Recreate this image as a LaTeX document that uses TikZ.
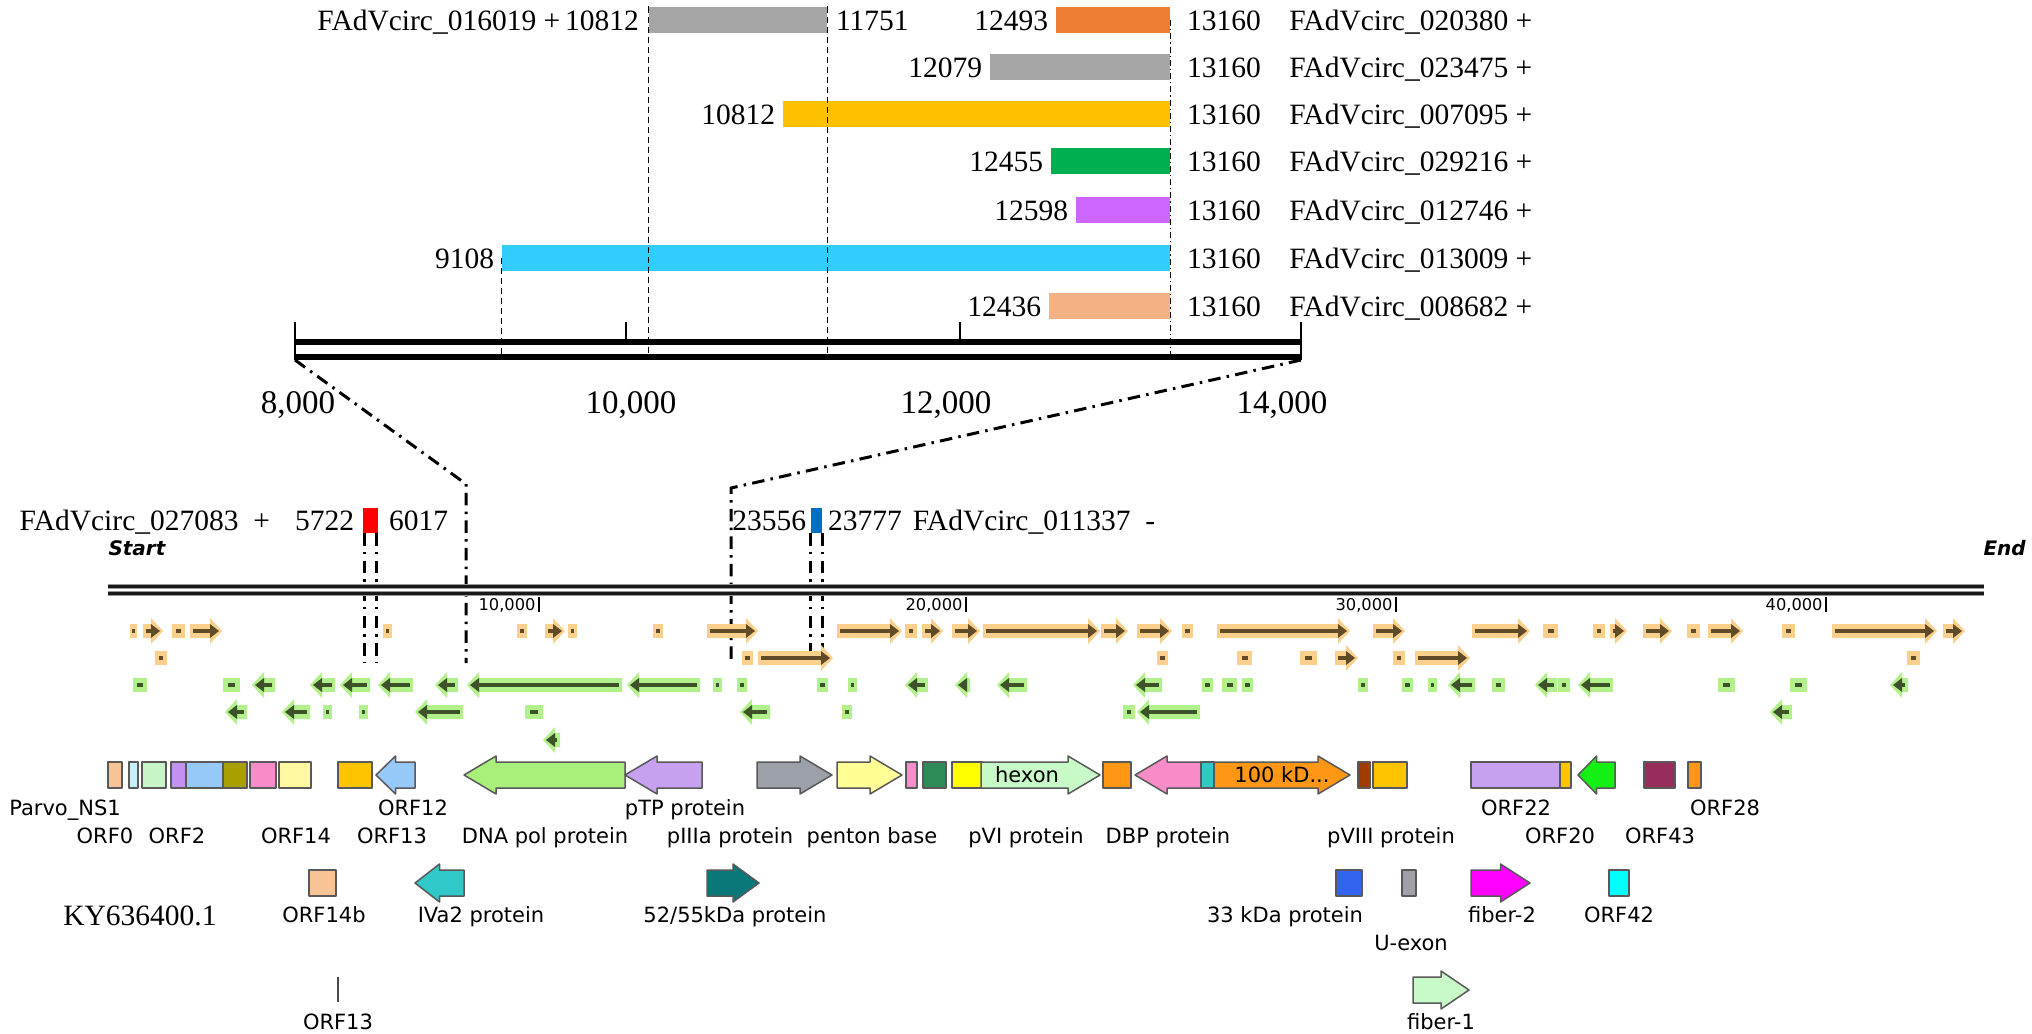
\documentclass[tikz,border=0pt]{standalone}
\usepackage{fontspec}
\setmainfont{Liberation Serif}
\setsansfont{DejaVu Sans}
\usetikzlibrary{positioning}

% circRNA colours
\definecolor{cgray}{RGB}{166,166,166}
\definecolor{corange}{RGB}{237,125,49}
\definecolor{cyellow}{RGB}{255,192,0}
\definecolor{cgreen}{RGB}{0,176,80}
\definecolor{cpurple}{RGB}{204,102,255}
\definecolor{cblue}{RGB}{51,204,255}
\definecolor{csalmon}{RGB}{244,177,131}
\definecolor{cred}{RGB}{255,0,0}
\definecolor{cmblue}{RGB}{0,112,192}
% feature track colours
\definecolor{fwdlight}{RGB}{250,208,140}
\definecolor{fwddark}{RGB}{95,75,40}
\definecolor{revlight}{RGB}{178,240,140}
\definecolor{revdark}{RGB}{62,82,42}
% ORF colours
\definecolor{orfpeach}{RGB}{248,196,150}
\definecolor{orflcyan}{RGB}{200,240,250}
\definecolor{orflgreen}{RGB}{200,245,200}
\definecolor{orfpurple}{RGB}{195,145,240}
\definecolor{orflblue}{RGB}{150,200,248}
\definecolor{orfolive}{RGB}{168,160,0}
\definecolor{orfpink}{RGB}{248,140,200}
\definecolor{orflyellow}{RGB}{255,248,160}
\definecolor{orfgold}{RGB}{255,196,0}
\definecolor{orflime}{RGB}{168,240,122}
\definecolor{orflav}{RGB}{200,160,240}
\definecolor{orfgrey}{RGB}{156,160,168}
\definecolor{orfpyellow}{RGB}{255,255,150}
\definecolor{orfdgreen}{RGB}{46,139,87}
\definecolor{orfyellow}{RGB}{255,255,0}
\definecolor{orfmint}{RGB}{200,250,200}
\definecolor{orforange}{RGB}{255,150,20}
\definecolor{orfteal}{RGB}{48,200,200}
\definecolor{orfbrown}{RGB}{160,60,0}
\definecolor{orfgreen}{RGB}{20,240,20}
\definecolor{orfmaroon}{RGB}{150,45,90}
\definecolor{orfblue}{RGB}{50,100,240}
\definecolor{orfdteal}{RGB}{10,120,120}
\definecolor{orfmagenta}{RGB}{255,0,255}
\definecolor{orfcyan}{RGB}{0,255,255}
\definecolor{orfsilver}{RGB}{160,160,168}

\tikzset{
  cbar/.style={rectangle, inner sep=0pt, minimum height=10.4pt},
  numlab/.style={inner sep=0pt, font=\fontsize{11.8}{14}\selectfont, text height=8pt, text depth=0pt},
  axlab/.style={inner sep=0pt, font=\fontsize{13.2}{15}\selectfont, text height=8.9pt, text depth=0pt},
  orflab/.style={inner sep=0pt, font=\sffamily\fontsize{8.4}{10}\selectfont, text height=6.1pt, text depth=0pt},
  ticklab/.style={inner sep=0pt, font=\sffamily\fontsize{6.5}{8}\selectfont, text height=4.7pt, text depth=0pt},
  endlab/.style={inner sep=0pt, font=\sffamily\bfseries\itshape\fontsize{8}{10}\selectfont, text height=5.8pt, text depth=0pt},
  vdash/.style={line width=0.6pt, dash pattern=on 2.4pt off 1.6pt},
  vdots/.style={line width=0.6pt, dash pattern=on 2.4pt off 1.2pt on 0.5pt off 1.2pt},
  zoomline/.style={line width=1.2pt, dash pattern=on 5pt off 2.5pt on 1pt off 2.5pt},
  orf/.style={draw=black!65, line width=0.6pt, line join=round}
}

% small features of the annotation track
\newcommand{\fwdfeat}[3]{%
  \fill[fwdlight] (#1,#3-7) -- (#2-12,#3-7) -- (#2-12,#3-13) -- (#2,#3)
    -- (#2-12,#3+13) -- (#2-12,#3+7) -- (#1,#3+7) -- cycle;
  \draw[fwddark, line width=1.8pt] (#1+3,#3) -- (#2-10,#3);
  \fill[fwddark] (#2-12,#3-7) -- (#2-3,#3) -- (#2-12,#3+7) -- cycle;
}
\newcommand{\revfeat}[3]{%
  \fill[revlight] (#2,#3-7) -- (#1+12,#3-7) -- (#1+12,#3-13) -- (#1,#3)
    -- (#1+12,#3+13) -- (#1+12,#3+7) -- (#2,#3+7) -- cycle;
  \draw[revdark, line width=1.8pt] (#2-3,#3) -- (#1+10,#3);
  \fill[revdark] (#1+12,#3-7) -- (#1+3,#3) -- (#1+12,#3+7) -- cycle;
}
\newcommand{\featbox}[4]{%
  \fill[#4light] (#1,#3-7) rectangle (#2,#3+7);
  \fill[#4dark] ({(#1+#2)/2-(#2-#1)*0.2},#3-2.2) rectangle ({(#1+#2)/2+(#2-#1)*0.2},#3+2.2);
}
% ORF shapes
\newcommand{\orfbox}[4]{\draw[orf, fill=#4] (#1,#3-13) rectangle (#2,#3+13);}
\newcommand{\orfright}[4]{%
  \pgfmathsetmacro\orfhead{min(32,0.5*(#2-#1))}%
  \draw[orf, fill=#4] (#1,#3-13) -- (#2-\orfhead,#3-13) -- (#2-\orfhead,#3-19) -- (#2,#3)
    -- (#2-\orfhead,#3+19) -- (#2-\orfhead,#3+13) -- (#1,#3+13) -- cycle;}
\newcommand{\orfleft}[4]{%
  \pgfmathsetmacro\orfhead{min(32,0.5*(#2-#1))}%
  \draw[orf, fill=#4] (#2,#3-13) -- (#1+\orfhead,#3-13) -- (#1+\orfhead,#3-19) -- (#1,#3)
    -- (#1+\orfhead,#3+19) -- (#1+\orfhead,#3+13) -- (#2,#3+13) -- cycle;}

\begin{document}
\begin{tikzpicture}[x=0.4pt,y=-0.4pt]
\useasboundingbox (0,0) rectangle (2032,1033);

% circRNA bars over the zoomed scale
\foreach \nm/\xa/\xb/\yy/\cc in {c016019/649/827/20/cgray, c020380/1056/1170/20/corange,
    c023475/990/1170/67/cgray, c007095/783/1170/114/cyellow, c029216/1051/1170/161/cgreen,
    c012746/1076/1170/210/cpurple, c013009/502/1170/258/cblue, c008682/1049/1170/306/csalmon}
  \node[cbar, fill=\cc, minimum width={(\xb-\xa)*0.4pt}] (\nm) at ({(\xa+\xb)/2},\yy) {};

\node[numlab, left=3.6pt of c016019] (c016019-a) {FAdVcirc\_016019 +\,10812};
\node[numlab, right=3.2pt of c016019] (c016019-b) {11751};
\foreach \id/\st in {020380/12493, 023475/12079, 007095/10812, 029216/12455,
    012746/12598, 013009/9108, 008682/12436}{
  \node[numlab, left=2.8pt of c\id] (c\id-a) {\st};
  \node[numlab, right=6.4pt of c\id] (c\id-b) {13160};
  \node[numlab, right=11pt of c\id-b] (c\id-n) {FAdVcirc\_\id\ +};
}

% scale 8,000 - 14,000
\coordinate (axbot) at (0,360);
\draw[line width=2.4pt] (295,342) -- (1301,342);
\draw[line width=2.4pt] (295,357) -- (1301,357);
\draw[line width=0.5pt] (295,322) -- (295,360);
\draw[line width=0.5pt] (1301,322) -- (1301,360);
\foreach \x in {626,960} \draw[line width=0.5pt] (\x,322) -- (\x,342);
\node[axlab] (ax8) at (298,402) {8,000};
\node[axlab] (ax10) at (631,402) {10,000};
\node[axlab] (ax12) at (946,402) {12,000};
\node[axlab] (ax14) at (1282,402) {14,000};

% guide lines from the bars
\draw[vdash] (c016019.north west) -- (c016019.north west |- axbot);
\draw[vdash] (c016019.north east) -- (c016019.north east |- axbot);
\draw[vdash] (c013009.west) -- (c013009.west |- axbot);
\draw[vdots] (c020380.east) -- (c020380.east |- axbot);

% zoom lines down to the genome
\coordinate (zl) at (466,484);
\coordinate (zr) at (731,488);
\coordinate (trk) at (0,663);
\draw[zoomline] (295,360) -- (zl) -- (zl |- trk);
\draw[zoomline] (1301,360) -- (zr) -- (zr |- trk);

% circRNAs outside the zoom
\node[cbar, fill=cred, minimum width=6pt, minimum height=10pt] (c027083) at (370.5,520) {};
\node[numlab, left=3.2pt of c027083] (c027083-a) {5722};
\node[numlab, right=4pt of c027083] (c027083-b) {6017};
\node[numlab, left=9.6pt of c027083-a] (c027083-n) {FAdVcirc\_027083\enspace+};
\node[cbar, fill=cmblue, minimum width=4.4pt, minimum height=10pt] (c011337) at (816.5,520) {};
\node[numlab, left=1.6pt of c011337] (c011337-a) {23556};
\node[numlab, right=2pt of c011337] (c011337-b) {23777};
\node[numlab, right=4pt of c011337-b] (c011337-n) {FAdVcirc\_011337\enspace-};
\draw[zoomline] ([xshift=0.8pt]c027083.south west) -- ([xshift=0.8pt]c027083.south west |- trk);
\draw[zoomline] ([xshift=-0.8pt]c027083.south east) -- ([xshift=-0.8pt]c027083.south east |- trk);
\draw[zoomline] (c011337.south west) -- (c011337.south west |- 0,668);
\draw[zoomline] (c011337.south east) -- (c011337.south east |- 0,668);

% genome line
\node[endlab, anchor=west] (gstart) at (108,548) {Start};
\node[endlab, anchor=west] (gend) at (1983,548) {End};
\draw[line width=4.8pt, black!40] (108,590) -- (1984,590);
\draw[line width=1.4pt, black!90] (108,586.5) -- (1984,586.5);
\draw[line width=1.4pt, black!90] (108,593.5) -- (1984,593.5);
\draw[line width=0.5pt, white] (108,590) -- (1984,590);
\foreach \x/\t in {539/10{,}000, 966/20{,}000, 1396/30{,}000, 1826/40{,}000}{
  \draw[line width=0.5pt] (\x,597) -- (\x,612);
  \node[ticklab, anchor=east] (tk\x) at (\x-3,605) {\t};
}

% annotation track, forward strand
\foreach \a/\b in {130/137, 172/185, 383/392, 517/527, 568/577, 653/663, 905/917, 1182/1193,
    1543/1558, 1593/1605, 1687/1700, 1782/1795}
  \featbox{\a}{\b}{631}{fwd};
\foreach \a/\b in {143/163, 190/222, 545/565, 707/758, 837/902, 922/943, 952/980, 983/1100,
    1101/1128, 1137/1172, 1217/1350, 1373/1405, 1472/1530, 1610/1627, 1643/1672, 1708/1743,
    1832/1937, 1943/1965}
  \fwdfeat{\a}{\b}{631};
\foreach \a/\b in {155/167, 742/753, 1157/1168, 1237/1252, 1300/1317, 1393/1405, 1907/1920}
  \featbox{\a}{\b}{658}{fwd};
\foreach \a/\b in {758/833, 1335/1358, 1415/1470}
  \fwdfeat{\a}{\b}{658};

% annotation track, reverse strand
\foreach \a/\b in {133/147, 223/240, 713/722, 737/747, 817/828, 848/857, 1202/1213, 1222/1237,
    1242/1253, 1358/1368, 1402/1413, 1428/1437, 1492/1505, 1558/1570, 1718/1735, 1790/1807}
  \featbox{\a}{\b}{685}{rev};
\foreach \a/\b in {252/275, 310/335, 340/370, 378/413, 435/458, 467/622, 627/700, 905/928,
    955/970, 997/1027, 1133/1162, 1448/1475, 1535/1557, 1578/1613, 1890/1908}
  \revfeat{\a}{\b}{685};
\foreach \a/\b in {323/332, 359/368, 525/543, 842/852, 1123/1135}
  \featbox{\a}{\b}{712}{rev};
\foreach \a/\b in {225/247, 282/310, 415/463, 740/770, 1137/1200, 1770/1792}
  \revfeat{\a}{\b}{712};
\revfeat{543}{560}{740};

% ORFs of KY636400.1
\foreach \a/\b/\cc in {108/122/orfpeach, 129/138/orflcyan, 142/166/orflgreen, 171/186/orfpurple,
    186/223/orflblue, 223/247/orfolive, 250/276/orfpink, 279/311/orflyellow, 338/372/orfgold,
    906/917/orfpink, 923/946/orfdgreen, 952/982/orfyellow, 1103/1131/orforange,
    1358/1370/orfbrown, 1373/1407/orfgold, 1471/1560/orflav, 1560/1571/orfgold,
    1644/1675/orfmaroon, 1688/1701/orforange}
  \orfbox{\a}{\b}{775}{\cc};
\foreach \a/\b/\cc in {376/415/orflblue, 464/625/orflime, 625/702/orflav, 1135/1201/orfpink,
    1578/1615/orfgreen}
  \orfleft{\a}{\b}{775}{\cc};
\foreach \a/\b/\cc in {757/832/orfgrey, 837/902/orfpyellow, 981/1100/orfmint, 1214/1350/orforange}
  \orfright{\a}{\b}{775}{\cc};
\orfbox{1201}{1214}{775}{orfteal};
\node[orflab] (thexon) at (1027,775) {hexon};
\node[orflab] (t100kd) at (1282,775) {100 kD...};

\foreach \a/\b/\cc in {309/336/orfpeach, 1336/1362/orfblue, 1402/1416/orfsilver, 1609/1629/orfcyan}
  \orfbox{\a}{\b}{883}{\cc};
\orfleft{415}{464}{883}{orfteal};
\orfright{707}{759}{883}{orfdteal};
\orfright{1471}{1530}{883}{orfmagenta};
\draw[line width=0.9pt, black!70] (338,977) -- (338,1002);
\orfright{1413}{1469}{990}{orfmint};

% ORF labels
\node[orflab] (lparvo) at (65,808) {Parvo\_NS1};
\node[orflab] (lorf12) at (413,808) {ORF12};
\node[orflab] (lptp) at (685,808) {pTP protein};
\node[orflab] (lorf22) at (1516,808) {ORF22};
\node[orflab] (lorf28) at (1725,808) {ORF28};
\node[orflab] (lorf0) at (105,836) {ORF0};
\node[orflab] (lorf2) at (177,836) {ORF2};
\node[orflab] (lorf14) at (296,836) {ORF14};
\node[orflab] (lorf13) at (392,836) {ORF13};
\node[orflab] (ldna) at (545,836) {DNA pol protein};
\node[orflab] (lpiiia) at (730,836) {pIIIa protein};
\node[orflab] (lpenton) at (872,836) {penton base};
\node[orflab] (lpvi) at (1026,836) {pVI protein};
\node[orflab] (ldbp) at (1168,836) {DBP protein};
\node[orflab] (lpviii) at (1391,836) {pVIII protein};
\node[orflab] (lorf20) at (1560,836) {ORF20};
\node[orflab] (lorf43) at (1660,836) {ORF43};
\node[numlab] (lky) at (140,915) {KY636400.1};
\node[orflab] (lorf14b) at (324,915) {ORF14b};
\node[orflab] (livatwo) at (481,915) {IVa2 protein};
\node[orflab] (lfiftytwo) at (735,915) {52/55kDa protein};
\node[orflab] (lthirtythree) at (1285,915) {33 kDa protein};
\node[orflab] (lfibertwo) at (1502,915) {fiber-2};
\node[orflab] (lorf42) at (1619,915) {ORF42};
\node[orflab] (luexon) at (1411,943) {U-exon};
\node[orflab] (lorf13b) at (338,1022) {ORF13};
\node[orflab] (lfiberone) at (1441,1022) {fiber-1};
\end{tikzpicture}
\end{document}
